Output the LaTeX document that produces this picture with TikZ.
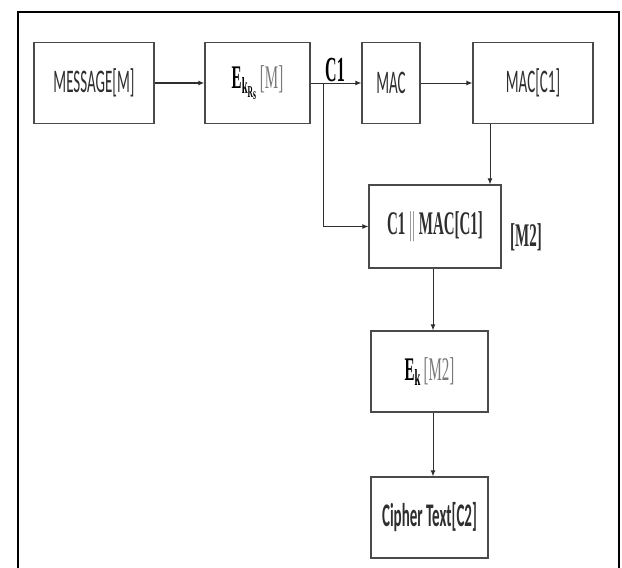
\documentclass[tikz,border=0pt]{standalone}
\usepackage{fontspec}
\usepackage{graphicx}
\usepackage{xcolor}
\usetikzlibrary{arrows.meta}
\setmainfont{Liberation Serif}
\newfontfamily\calib{Carlito}
\definecolor{boxgray}{HTML}{4A4A4A}
\definecolor{txtgray}{HTML}{2E2E2E}
\definecolor{lightgray}{HTML}{7A7A7A}
\newcommand{\tallt}[1]{\scalebox{1}[2.2]{#1}}

\begin{document}
\begin{tikzpicture}[x=1pt,y=-1pt,font=\fontsize{15}{17}\selectfont,
  blk/.style={draw=boxgray,line width=1.3pt,inner sep=0pt,text=txtgray},
  arr/.style={draw=txtgray,line width=1pt,-{Latex[length=6pt,width=5pt]}}]
\useasboundingbox (0,0) rectangle (622,568);
% outer frame
\draw[black,line width=2.6pt] (18,568) -- (18,12) -- (619,12) -- (619,568);
% top row
\node[blk,minimum width=120pt,minimum height=81pt] (msg) at (94,83) {\tallt{\calib MESSAGE[M]}};
\node[blk,minimum width=105pt,minimum height=81pt] (enc) at (257.5,83) {\tallt{\textcolor{black}{\textbf{E}$_{\mathbf{k}_{\mathbf{R}_{\mathbf{s}}}}$}\,\textcolor{lightgray}{[M]}}};
\node[blk,minimum width=58pt,minimum height=81pt] (mac) at (391,83) {\tallt{\calib MAC}};
\node[blk,minimum width=120pt,minimum height=81pt] (macc) at (533,83) {\tallt{\calib MAC[C1]}};
% concatenation
\node[blk,minimum width=132pt,minimum height=83pt] (cat) at (435,226.5) {\tallt{\textbf{C1 {\normalfont\textcolor{lightgray}{||}} MAC[C1]}}};
\node[text=txtgray] (m2) at (526,237) {\tallt{\textbf{[M2]}}};
% second encryption and output
\node[blk,minimum width=117pt,minimum height=81pt] (ek) at (429.5,371.5) {\tallt{\textcolor{black}{\textbf{E}$_{\mathbf{k}}$}\,\textcolor{lightgray}{[M2]}}};
\node[blk,minimum width=117pt,minimum height=81pt] (ct) at (429.5,517.5) {\tallt{\calib\bfseries Cipher Text[C2]}};
\node[text=black] (c1) at (335,70) {\tallt{\fontsize{16}{18}\selectfont\bfseries C1}};
% connectors
\coordinate (br) at (323,83);
\coordinate (dn) at (490,0);
\coordinate (dm) at (433,0);
\draw[arr,line width=1.3pt] (msg) -- (enc);
\draw[arr] (enc) -- (mac);
\draw[arr] (br) |- (cat.west);
\draw[arr] (mac) -- (macc);
\draw[arr] (dn |- macc.south) -- (dn |- cat.north);
\draw[arr] (dm |- cat.south) -- (dm |- ek.north);
\draw[arr] (dm |- ek.south) -- (dm |- ct.north);
\end{tikzpicture}
\end{document}
